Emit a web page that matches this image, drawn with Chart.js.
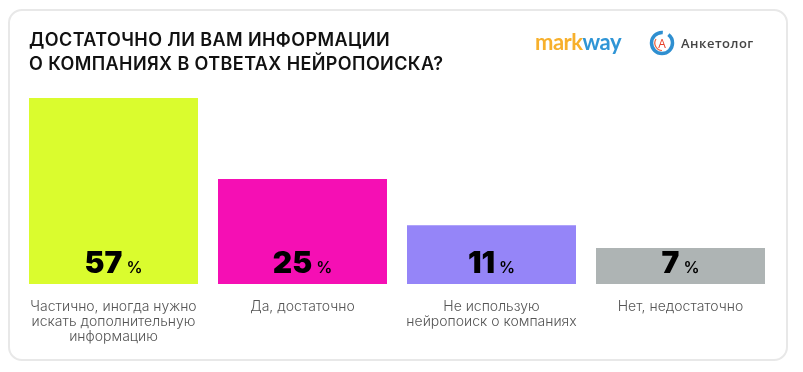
<!DOCTYPE html>
<html lang="ru">
<head>
<meta charset="utf-8">
<title>Достаточно ли вам информации</title>
<script src="https://cdn.jsdelivr.net/npm/chart.js@4"></script>
<style>
    html, body { margin: 0; padding: 0; background: #fff; }
    #page { position: relative; width: 803px; height: 372px; overflow: hidden; font-family: Inter, sans-serif; }
    #card { position: absolute; left: 8px; top: 9px; width: 776px; height: 348px; border: 2px solid #e8e8e8; border-radius: 14px; }
    #chart { position: absolute; left: 0; top: 0; }
    #heading { position: absolute; left: 29px; top: 28px; font: 600 18px/24px Inter, sans-serif; letter-spacing: 0.4px; color: #111; white-space: nowrap; }
    #markway { position: absolute; left: 535px; top: 29px; font: 700 22px/26px Lato, sans-serif; letter-spacing: -0.5px; }
    #markway .warm { color: #f7b02c; }
    #markway .cool { color: #2f95d6; }
    #anketolog { position: absolute; left: 681px; top: 35px; font: 600 13px/16px "Open Sans", sans-serif; letter-spacing: 0.5px; color: #444; }
    #icon { position: absolute; left: 649px; top: 30px; }
</style>
</head>
<body>
<div id="page">
    <div id="card"></div>
    <canvas id="chart" width="803" height="372"></canvas>
    <div id="heading">ДОСТАТОЧНО ЛИ ВАМ ИНФОРМАЦИИ<br>О КОМПАНИЯХ В ОТВЕТАХ НЕЙРОПОИСКА?</div>
    <div id="markway"><span class="warm">mark</span><span class="cool">way</span></div>
    <svg id="icon" width="26" height="26" viewBox="0 0 26 26">
        <circle cx="13" cy="13" r="10.5" fill="none" stroke="#2f8fd0" stroke-width="3.5" stroke-dasharray="50 6"/>
        <path d="M7 9 A7.5 7.5 0 0 0 13 20.5" fill="none" stroke="#f0643c" stroke-width="1.2"/>
        <text x="13" y="17.5" text-anchor="middle" font-family="Open Sans" font-size="12" fill="#e8402a">А</text>
    </svg>
    <div id="anketolog">Анкетолог</div>
</div>
<script>
const categories = [
    ['Частично, иногда нужно', 'искать дополнительную', 'информацию'],
    ['Да, достаточно'],
    ['Не использую', 'нейропоиск о компаниях'],
    ['Нет, недостаточно']
];
// printed percentages
const percentLabels = [57, 25, 11, 7];
// bar heights as drawn in the picture, they are not proportional to the printed numbers
const barHeights = [57, 32.2, 18, 11];
const barColors = ['#dafc2e', '#f50fb4', '#9585f8', '#aeb4b4'];

const valueLabels = {
    id: 'valueLabels',
    afterDatasetsDraw(chart) {
        const ctx = chart.ctx;
        chart.getDatasetMeta(0).data.forEach((bar, i) => {
            const number = String(percentLabels[i]);
            ctx.save();
            ctx.fillStyle = '#000';
            ctx.textBaseline = 'alphabetic';
            ctx.textAlign = 'left';
            ctx.font = '900 30px Inter';
            const numberWidth = ctx.measureText(number).width;
            ctx.font = '600 16px Inter';
            const signWidth = ctx.measureText('%').width;
            const left = bar.x - (numberWidth + 4 + signWidth) / 2;
            ctx.font = '900 30px Inter';
            ctx.fillText(number, left, bar.base - 11);
            ctx.font = '600 16px Inter';
            ctx.fillText('%', left + numberWidth + 4, bar.base - 11);
            ctx.restore();
        });
    }
};

new Chart(document.getElementById('chart'), {
    type: 'bar',
    data: {
        labels: categories,
        datasets: [{
            data: barHeights,
            backgroundColor: barColors,
            barPercentage: 169 / 189,
            categoryPercentage: 1
        }]
    },
    options: {
        responsive: false,
        animation: false,
        layout: { padding: { left: 19, right: 28, top: 98, bottom: 0 } },
        plugins: { legend: { display: false }, tooltip: { enabled: false } },
        scales: {
            x: {
                grid: { display: false },
                border: { display: false },
                afterFit(scale) { scale.height = 88; },
                ticks: {
                    color: '#555',
                    padding: 7,
                    maxRotation: 0,
                    autoSkip: false,
                    font: { family: 'Inter', size: 14, weight: 300, lineHeight: 1.07 }
                }
            },
            y: { display: false, min: 0, max: 57 }
        }
    },
    plugins: [valueLabels]
});
</script>
</body>
</html>
